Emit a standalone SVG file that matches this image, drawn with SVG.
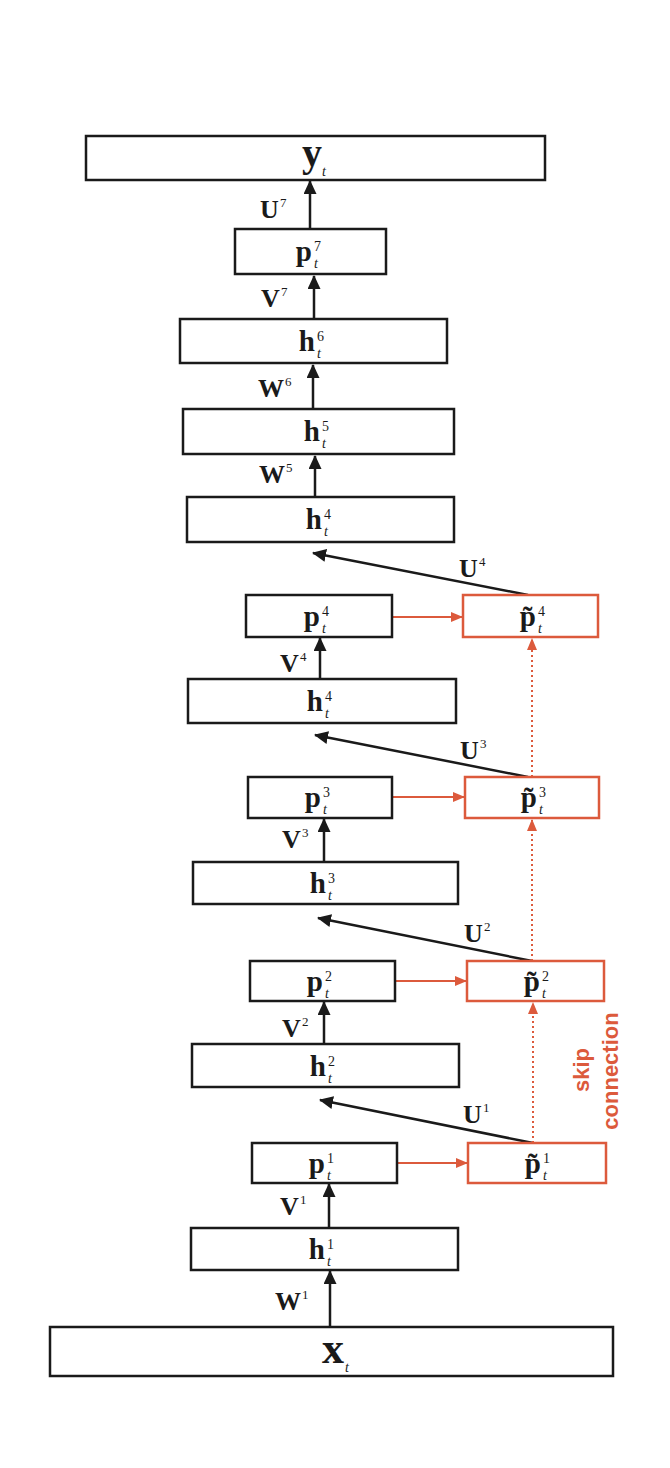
<svg xmlns="http://www.w3.org/2000/svg" width="670" height="1468" viewBox="0 0 670 1468">
<style>
.box{fill:#fff;stroke:#1a1a1a;stroke-width:2.5}
.rbox{fill:#fff;stroke:#dc5a3c;stroke-width:2.5}
.base{font-family:"Liberation Serif","Times New Roman",serif;font-weight:bold;font-size:29px;fill:#1a1a1a}
.big{font-size:40px}
.sup{font-family:"Liberation Serif","Times New Roman",serif;font-size:14px;fill:#1a1a1a}
.sub{font-family:"Liberation Serif","Times New Roman",serif;font-style:italic;font-size:14px;fill:#1a1a1a}
.lbl{font-family:"Liberation Serif","Times New Roman",serif;font-weight:bold;font-size:26px;fill:#1a1a1a}
.lsup{font-family:"Liberation Serif","Times New Roman",serif;font-size:13px;fill:#1a1a1a}
.arr{stroke:#1a1a1a;stroke-width:2.5;fill:none}
.rarr{stroke:#dc5a3c;stroke-width:2.2;fill:none}
.dot{stroke:#dc5a3c;stroke-width:2;fill:none;stroke-dasharray:2 3}
.skip{font-family:"Liberation Sans",Arial,sans-serif;font-weight:bold;font-size:22px;fill:#dc5a3c}
</style>
<defs>
<marker id="ah" markerUnits="userSpaceOnUse" markerWidth="14" markerHeight="13" refX="13" refY="6.5" orient="auto"><path d="M0,0 L14,6.5 L0,13 z" fill="#1a1a1a"/></marker>
<marker id="rh" markerUnits="userSpaceOnUse" markerWidth="12" markerHeight="10" refX="11" refY="5" orient="auto"><path d="M0,0 L12,5 L0,10 z" fill="#dc5a3c"/></marker>
</defs>
<rect width="670" height="1468" fill="#fff"/>

<g id="connectors">
<line class="arr" x1="310" y1="229" x2="310" y2="181" marker-end="url(#ah)"/>
<line class="arr" x1="314" y1="319" x2="314" y2="276" marker-end="url(#ah)"/>
<line class="arr" x1="313" y1="409" x2="313" y2="365" marker-end="url(#ah)"/>
<line class="arr" x1="315" y1="497" x2="315" y2="456" marker-end="url(#ah)"/>
<line class="arr" x1="528" y1="595" x2="313" y2="553" marker-end="url(#ah)"/>
<line class="arr" x1="320" y1="679" x2="320" y2="638" marker-end="url(#ah)"/>
<line class="arr" x1="528" y1="777" x2="315" y2="735" marker-end="url(#ah)"/>
<line class="arr" x1="324" y1="862" x2="324" y2="819" marker-end="url(#ah)"/>
<line class="arr" x1="532" y1="961" x2="318" y2="918" marker-end="url(#ah)"/>
<line class="arr" x1="324" y1="1044" x2="324" y2="1002" marker-end="url(#ah)"/>
<line class="arr" x1="533" y1="1143" x2="320" y2="1100" marker-end="url(#ah)"/>
<line class="arr" x1="329" y1="1228" x2="329" y2="1184" marker-end="url(#ah)"/>
<line class="arr" x1="330" y1="1327" x2="330" y2="1271" marker-end="url(#ah)"/>
<line class="rarr" x1="392" y1="617" x2="462" y2="617" marker-end="url(#rh)"/>
<line class="rarr" x1="392" y1="797" x2="464" y2="797" marker-end="url(#rh)"/>
<line class="rarr" x1="395" y1="981" x2="466" y2="981" marker-end="url(#rh)"/>
<line class="rarr" x1="397" y1="1163" x2="467" y2="1163" marker-end="url(#rh)"/>
<line class="dot" x1="532" y1="777" x2="532" y2="639" marker-end="url(#rh)"/>
<line class="dot" x1="532" y1="961" x2="532" y2="820" marker-end="url(#rh)"/>
<line class="dot" x1="533" y1="1143" x2="533" y2="1003" marker-end="url(#rh)"/>
<text class="lbl" x="260" y="218">U</text><text class="lsup" x="280" y="207">7</text>
<text class="lbl" x="261" y="307">V</text><text class="lsup" x="281" y="296">7</text>
<text class="lbl" x="258" y="397">W</text><text class="lsup" x="285" y="386">6</text>
<text class="lbl" x="259" y="483">W</text><text class="lsup" x="286" y="472">5</text>
<text class="lbl" x="459" y="577">U</text><text class="lsup" x="479" y="566">4</text>
<text class="lbl" x="280" y="672">V</text><text class="lsup" x="300" y="661">4</text>
<text class="lbl" x="460" y="759">U</text><text class="lsup" x="480" y="748">3</text>
<text class="lbl" x="282" y="848">V</text><text class="lsup" x="302" y="837">3</text>
<text class="lbl" x="464" y="942">U</text><text class="lsup" x="484" y="931">2</text>
<text class="lbl" x="282" y="1037">V</text><text class="lsup" x="302" y="1026">2</text>
<text class="lbl" x="463" y="1123">U</text><text class="lsup" x="483" y="1112">1</text>
<text class="lbl" x="280" y="1215">V</text><text class="lsup" x="300" y="1204">1</text>
<text class="lbl" x="275" y="1310">W</text><text class="lsup" x="302" y="1299">1</text>
<text class="skip" transform="translate(589,1070) rotate(-90)" text-anchor="middle">skip</text>
<text class="skip" transform="translate(618,1071) rotate(-90)" text-anchor="middle">connection</text>
</g>

<g id="node-y"><rect class="box" x="86" y="136" width="459" height="44"/><text class="base big" x="312" y="166" text-anchor="middle">y</text><text class="sub" x="322" y="176">t</text></g>
<g id="node-p7"><rect class="box" x="235" y="229" width="151" height="45"/><text class="base" x="312" y="261" text-anchor="end">p</text><text class="sup" x="314" y="251">7</text><text class="sub" x="314" y="268">t</text></g>
<g id="node-h6"><rect class="box" x="180" y="319" width="267" height="44"/><text class="base" x="315" y="351" text-anchor="end">h</text><text class="sup" x="317" y="341">6</text><text class="sub" x="317" y="358">t</text></g>
<g id="node-h5"><rect class="box" x="183" y="409" width="271" height="45"/><text class="base" x="320" y="441" text-anchor="end">h</text><text class="sup" x="322" y="431">5</text><text class="sub" x="322" y="448">t</text></g>
<g id="node-h4a"><rect class="box" x="187" y="497" width="267" height="45"/><text class="base" x="322" y="529" text-anchor="end">h</text><text class="sup" x="324" y="519">4</text><text class="sub" x="324" y="536">t</text></g>
<g id="node-p4"><rect class="box" x="246" y="595" width="146" height="42"/><text class="base" x="320" y="626" text-anchor="end">p</text><text class="sup" x="322" y="616">4</text><text class="sub" x="322" y="633">t</text></g>
<g id="node-pt4"><rect class="rbox" x="463" y="595" width="135" height="42"/><text class="base" x="536" y="626" text-anchor="end">p&#x303;</text><text class="sup" x="538" y="616">4</text><text class="sub" x="538" y="633">t</text></g>
<g id="node-h4b"><rect class="box" x="188" y="679" width="268" height="44"/><text class="base" x="323" y="711" text-anchor="end">h</text><text class="sup" x="325" y="701">4</text><text class="sub" x="325" y="718">t</text></g>
<g id="node-p3"><rect class="box" x="248" y="777" width="144" height="41"/><text class="base" x="321" y="807" text-anchor="end">p</text><text class="sup" x="323" y="797">3</text><text class="sub" x="323" y="814">t</text></g>
<g id="node-pt3"><rect class="rbox" x="465" y="777" width="134" height="41"/><text class="base" x="537" y="807" text-anchor="end">p&#x303;</text><text class="sup" x="539" y="797">3</text><text class="sub" x="539" y="814">t</text></g>
<g id="node-h3"><rect class="box" x="193" y="862" width="265" height="42"/><text class="base" x="326" y="893" text-anchor="end">h</text><text class="sup" x="328" y="883">3</text><text class="sub" x="328" y="900">t</text></g>
<g id="node-p2"><rect class="box" x="250" y="961" width="145" height="40"/><text class="base" x="323" y="991" text-anchor="end">p</text><text class="sup" x="325" y="981">2</text><text class="sub" x="325" y="998">t</text></g>
<g id="node-pt2"><rect class="rbox" x="467" y="961" width="137" height="40"/><text class="base" x="540" y="991" text-anchor="end">p&#x303;</text><text class="sup" x="542" y="981">2</text><text class="sub" x="542" y="998">t</text></g>
<g id="node-h2"><rect class="box" x="192" y="1044" width="267" height="43"/><text class="base" x="326" y="1076" text-anchor="end">h</text><text class="sup" x="328" y="1066">2</text><text class="sub" x="328" y="1083">t</text></g>
<g id="node-p1"><rect class="box" x="252" y="1143" width="145" height="40"/><text class="base" x="325" y="1173" text-anchor="end">p</text><text class="sup" x="327" y="1163">1</text><text class="sub" x="327" y="1180">t</text></g>
<g id="node-pt1"><rect class="rbox" x="468" y="1143" width="138" height="40"/><text class="base" x="541" y="1173" text-anchor="end">p&#x303;</text><text class="sup" x="543" y="1163">1</text><text class="sub" x="543" y="1180">t</text></g>
<g id="node-h1"><rect class="box" x="191" y="1228" width="267" height="42"/><text class="base" x="325" y="1259" text-anchor="end">h</text><text class="sup" x="327" y="1249">1</text><text class="sub" x="327" y="1266">t</text></g>
<g id="node-x"><rect class="box" x="50" y="1327" width="563" height="49"/><text class="base big" x="333" y="1363" text-anchor="middle" style="font-size:44px">x</text><text class="sub" x="345" y="1372">t</text></g>
</svg>
